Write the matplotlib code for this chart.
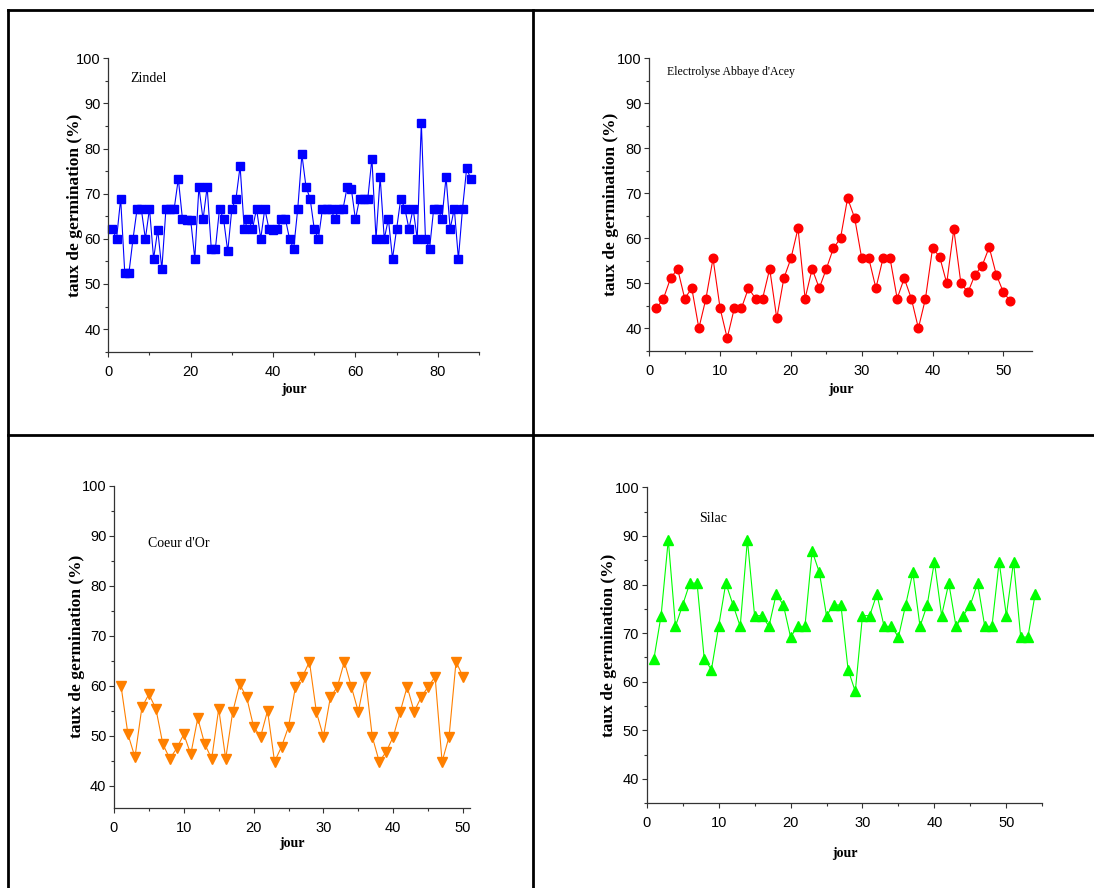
import matplotlib
matplotlib.use('Agg')
import matplotlib.pyplot as plt
from matplotlib.ticker import MultipleLocator
from matplotlib.lines import Line2D

# germination rate (%) per day for each lot
zindel = [62.2, 60.0, 68.9, 52.4, 52.4, 60.0, 66.7, 66.7, 60.0, 66.7,
          55.6, 62.0, 53.3, 66.7, 66.7, 66.7, 73.3, 64.4, 64.2, 64.2,
          55.6, 71.5, 64.3, 71.5, 57.8, 57.8, 66.7, 64.3, 57.2, 66.7,
          68.9, 76.1, 62.2, 64.4, 62.2, 66.7, 60.0, 66.7, 62.2, 61.9,
          62.2, 64.4, 64.4, 60.0, 57.8, 66.7, 78.7, 71.5, 68.9, 62.2,
          60.0, 66.7, 66.7, 66.7, 64.3, 66.7, 66.7, 71.5, 71.1, 64.3,
          68.9, 68.9, 68.9, 77.8, 60.0, 73.7, 60.0, 64.4, 55.6, 62.2,
          68.9, 66.7, 62.2, 66.7, 60.0, 85.7, 60.0, 57.8, 66.7, 66.7,
          64.4, 73.7, 62.2, 66.7, 55.6, 66.7, 75.6, 73.3]
electrolyse = [44.4, 46.6, 51.1, 53.2, 46.6, 48.9, 40.0, 46.6, 55.5, 44.4,
               37.8, 44.4, 44.4, 48.9, 46.6, 46.6, 53.2, 42.2, 51.1, 55.5,
               62.2, 46.6, 53.2, 48.9, 53.2, 57.8, 60.0, 68.9, 64.5, 55.5,
               55.5, 48.9, 55.5, 55.5, 46.6, 51.1, 46.6, 40.0, 46.6, 57.8,
               55.9, 50.0, 62.0, 50.0, 48.0, 51.9, 53.9, 58.0, 51.9, 48.0,
               46.0]
coeur_dor = [60.0, 50.3, 45.7, 55.7, 58.3, 55.4, 48.3, 45.4, 47.5, 50.3,
             46.3, 53.5, 48.3, 45.4, 55.4, 45.4, 54.7, 60.3, 57.7, 51.8,
             49.8, 55.0, 44.8, 47.8, 51.8, 59.8, 61.8, 64.8, 54.7, 49.8,
             57.7, 59.8, 64.8, 59.8, 54.8, 61.8, 49.8, 44.8, 46.8, 49.8,
             54.8, 59.8, 54.8, 57.7, 59.8, 61.8, 44.8, 49.8, 64.8, 61.8]
silac = [64.7, 73.6, 89.2, 71.4, 75.8, 80.3, 80.3, 64.7, 62.5, 71.4,
         80.3, 75.8, 71.4, 89.2, 73.6, 73.6, 71.4, 78.0, 75.8, 69.2,
         71.4, 71.4, 86.9, 82.5, 73.6, 75.8, 75.8, 62.5, 58.0, 73.6,
         73.6, 78.0, 71.4, 71.4, 69.2, 75.8, 82.5, 71.4, 75.8, 84.7,
         73.6, 80.3, 71.4, 73.6, 75.8, 80.3, 71.4, 71.4, 84.7, 73.6,
         84.7, 69.2, 69.2, 78.0]

W, H = 1094, 888
fig = plt.figure(figsize=(W / 100, H / 100), dpi=100)

tick_font = ['Liberation Sans Narrow', 'Liberation Sans', 'DejaVu Sans']
serif = ['Liberation Serif', 'DejaVu Serif']


def make_axes(left, right, top, bottom):
    return fig.add_axes([left / W, 1 - bottom / H, (right - left) / W, (bottom - top) / H])


def style(ax, xmax, ymin, xmajor, box, xlab_y, ylab_x):
    left, right, top, bottom = box
    ax.set_xlim(0, xmax)
    ax.set_ylim(ymin, 100)
    ax.xaxis.set_major_locator(MultipleLocator(xmajor))
    ax.xaxis.set_minor_locator(MultipleLocator(xmajor / 2))
    ax.yaxis.set_major_locator(MultipleLocator(10))
    ax.yaxis.set_minor_locator(MultipleLocator(5))
    for s in ['top', 'right']:
        ax.spines[s].set_visible(False)
    for s in ['left', 'bottom']:
        ax.spines[s].set_color('#333333')
        ax.spines[s].set_linewidth(0.9)
    ax.tick_params(which='major', direction='out', length=3.5, width=0.8, color='#333333',
                   labelsize=10.5, pad=2)
    ax.tick_params(which='minor', direction='out', length=2, width=0.8, color='#333333')
    ax.tick_params(axis='x', which='major', pad=6)
    for lab in ax.get_xticklabels() + ax.get_yticklabels():
        lab.set_family(tick_font)
    ax.set_xlabel('jour', family=serif, fontweight='bold', fontsize=10)
    ax.set_ylabel('taux de germination (%)', family=serif, fontweight='bold', fontsize=12.5)
    # label anchors in pixels: top of the x label, right edge of the y label
    ax.xaxis.set_label_coords(0.5, (bottom - xlab_y) / (bottom - top))
    ax.yaxis.set_label_coords((ylab_x - left) / (right - left), 0.5)


# Zindel
box1 = (108.3, 479, 58.3, 351.7)
ax1 = make_axes(*box1)
ax1.plot(range(1, len(zindel) + 1), zindel, color='#0000ff', lw=0.8,
         marker='s', ms=5.8, mec='#0000ff', mfc='#0000ff', clip_on=False)
style(ax1, 90, 35, 20, box1, 383, 83)

# Electrolyse Abbaye d'Acey
box2 = (649.3, 1031.7, 58.3, 350.7)
ax2 = make_axes(*box2)
ax2.plot(range(1, len(electrolyse) + 1), electrolyse, color='#ff0000', lw=0.8,
         marker='o', ms=6.2, mec='#ff0000', mfc='#ff0000', clip_on=False)
style(ax2, 54, 35, 10, box2, 383, 619)

# Coeur d'Or
box3 = (114, 470, 485.7, 807.7)
ax3 = make_axes(*box3)
ax3.plot(range(1, len(coeur_dor) + 1), coeur_dor, color='#ff8000', lw=0.8,
         marker='v', ms=7.5, mec='#ff8000', mfc='#ff8000', clip_on=False)
style(ax3, 51, 35.6, 10, box3, 837, 85)

# Silac
box4 = (646.7, 1042.3, 487.3, 803.3)
ax4 = make_axes(*box4)
ax4.plot(range(1, len(silac) + 1), silac, color='#00ff00', lw=0.8,
         marker='^', ms=7.5, mec='#00ff00', mfc='#00ff00', clip_on=False)
style(ax4, 55, 35, 10, box4, 847, 617)

for x, y, s, fs in [(130, 79, 'Zindel', 10), (667, 72, "Electrolyse Abbaye d'Acey", 8.5),
                    (148, 543, "Coeur d'Or", 10), (699, 518, 'Silac', 10)]:
    fig.text(x / W, 1 - y / H, s, family=serif, fontsize=fs, va='center', ha='left')

# table-like frame around the four panels
frame = [((8, 1094), (10, 10)), ((8, 8), (10, 888)), ((533, 533), (10, 888)),
         ((8, 1094), (435, 435))]
for xs, ys in frame:
    fig.add_artist(Line2D([x / W for x in xs], [1 - y / H for y in ys],
                          color='black', lw=2, transform=fig.transFigure))

fig.savefig('out.png', dpi=100)
